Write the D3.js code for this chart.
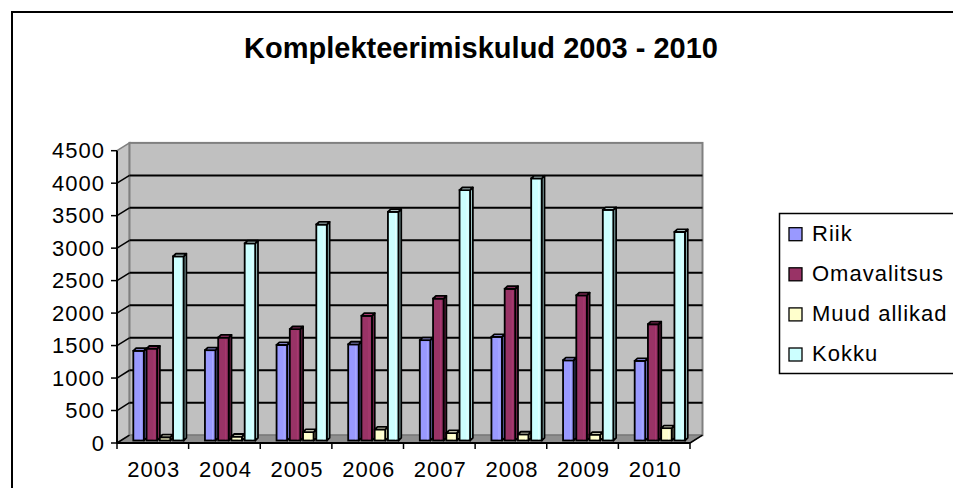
<!DOCTYPE html>
<html>
<head>
<meta charset="utf-8">
<script src="https://cdn.jsdelivr.net/npm/d3@7"></script>
<style>
  body { margin: 0; background: #fff; }
  svg { display: block; }
  text { font-family: Arial, "Liberation Sans", sans-serif; fill: #000; }
</style>
</head>
<body>
<div id="chart"></div>
<script>
// chart data
var years = ["2003", "2004", "2005", "2006", "2007", "2008", "2009", "2010"];
var seriesNames = ["Riik", "Omavalitsus", "Muud allikad", "Kokku"];
var riik = [1380, 1390, 1470, 1480, 1545, 1595, 1235, 1225];
var omavalitsus = [1415, 1585, 1715, 1920, 2185, 2335, 2235, 1790];
var muudAllikad = [50, 60, 130, 170, 115, 95, 90, 190];
var kokku = [2835, 3035, 3325, 3520, 3855, 4035, 3550, 3210];
var yTicks = [0, 500, 1000, 1500, 2000, 2500, 3000, 3500, 4000, 4500];
var colors = ["#9999ff", "#993366", "#ffffcc", "#ccffff"];

var seriesValues = [riik, omavalitsus, muudAllikad, kokku];

var width = 953, height = 488;

var svg = d3.select("#chart").append("svg")
  .attr("width", width)
  .attr("height", height);

// outer chart frame (runs off the right / bottom edge like the original)
svg.append("rect")
  .attr("x", 12).attr("y", 12)
  .attr("width", 960).attr("height", 500)
  .attr("fill", "#fff")
  .attr("stroke", "#000")
  .attr("stroke-width", 2);

// title
svg.append("text")
  .attr("x", 481).attr("y", 58)
  .attr("text-anchor", "middle")
  .style("font-size", "29px")
  .style("font-weight", "bold")
  .text("Komplekteerimiskulud 2003 - 2010");

// scales on the front plane
var y = d3.scaleLinear().domain([0, 4500]).range([443, 150.7]);
var x = d3.scaleBand().domain(years).range([117, 690]);
var xs = d3.scaleBand().domain(seriesNames).range([0, 53]);

// depth of the 3d box
var DX = 12.5, DY = -7.8;

// left side wall
svg.append("polygon")
  .attr("points", [[117, y(4500)], [117 + DX, y(4500) + DY], [117 + DX, y(0) + DY], [117, y(0)]].join(" "))
  .attr("fill", "#c4c4c4")
  .attr("stroke", "#808080")
  .attr("stroke-width", 1.5);

// back wall
svg.append("rect")
  .attr("x", 117 + DX).attr("y", y(4500) + DY)
  .attr("width", 690 - 117).attr("height", y(0) - y(4500))
  .attr("fill", "#c0c0c0")
  .attr("stroke", "#808080")
  .attr("stroke-width", 2);

// floor
svg.append("polygon")
  .attr("points", [[117, y(0)], [690, y(0)], [690 + DX, y(0) + DY], [117 + DX, y(0) + DY]].join(" "))
  .attr("fill", "#8f8f8f")
  .attr("stroke", "#777")
  .attr("stroke-width", 1);

// gridlines on back wall + side wall
var gridVals = yTicks.filter(function(d) { return d > 0 && d < 4500; });
svg.selectAll(".grid")
  .data(gridVals)
  .enter().append("line")
  .attr("x1", 117 + DX).attr("x2", 690 + DX)
  .attr("y1", function(d) { return y(d) + DY; })
  .attr("y2", function(d) { return y(d) + DY; })
  .attr("stroke", "#000")
  .attr("stroke-width", 2);

svg.selectAll(".sideGrid")
  .data(yTicks.filter(function(d) { return d < 4500; }))
  .enter().append("line")
  .attr("x1", 117).attr("x2", 117 + DX)
  .attr("y1", function(d) { return y(d); })
  .attr("y2", function(d) { return y(d) + DY; })
  .attr("stroke", "#000")
  .attr("stroke-width", 1.5);

// bars
var inner = (x.bandwidth() - 53) / 2;
var bx = 7, by = -2.5;     // bar position inside the depth
var bw = 10.5;             // bar front width
var ddx = 2.8, ddy = -2.6; // bar depth

var barData = [];
years.forEach(function(yr, i) {
  seriesNames.forEach(function(s, j) {
    barData.push({ year: yr, series: s, value: seriesValues[j][i], color: colors[j] });
  });
});

var bars = svg.selectAll(".bar")
  .data(barData)
  .enter().append("g")
  .attr("class", "bar");

bars.each(function(d) {
  var g = d3.select(this);
  var x0 = x(d.year) + inner + xs(d.series) + bx;
  var y0 = y(0) + by;
  var y1 = y(d.value) + by;
  var c = d3.color(d.color);

  // side face
  g.append("polygon")
    .attr("points", [[x0 + bw, y1], [x0 + bw + ddx, y1 + ddy], [x0 + bw + ddx, y0 + ddy], [x0 + bw, y0]].join(" "))
    .attr("fill", c.darker(0.6))
    .attr("stroke", "#000")
    .attr("stroke-width", 1.8)
    .attr("stroke-linejoin", "round");

  // front face
  g.append("rect")
    .attr("x", x0).attr("y", y1)
    .attr("width", bw).attr("height", y0 - y1)
    .attr("fill", d.color)
    .attr("stroke", "#000")
    .attr("stroke-width", 1.8);

  // small highlight stripe
  g.append("line")
    .attr("x1", x0 + bw * 0.72).attr("x2", x0 + bw * 0.72)
    .attr("y1", y1 + 2).attr("y2", y0 - 1)
    .attr("stroke", c.brighter(0.5))
    .attr("stroke-opacity", 0.6)
    .attr("stroke-width", 1);

  // top face
  g.append("polygon")
    .attr("points", [[x0, y1], [x0 + ddx, y1 + ddy], [x0 + bw + ddx, y1 + ddy], [x0 + bw, y1]].join(" "))
    .attr("fill", c.brighter(0.3))
    .attr("stroke", "#000")
    .attr("stroke-width", 1.8)
    .attr("stroke-linejoin", "round");
});

// y axis
svg.append("line")
  .attr("x1", 117).attr("x2", 117)
  .attr("y1", y(4500)).attr("y2", y(0))
  .attr("stroke", "#000").attr("stroke-width", 2);

svg.selectAll(".ytick")
  .data(yTicks)
  .enter().append("line")
  .attr("x1", 111).attr("x2", 117)
  .attr("y1", function(d) { return y(d); })
  .attr("y2", function(d) { return y(d); })
  .attr("stroke", "#000").attr("stroke-width", 1.5);

svg.selectAll(".ylabel")
  .data(yTicks)
  .enter().append("text")
  .attr("x", 105)
  .attr("y", function(d) { return y(d) + 7.5; })
  .attr("text-anchor", "end")
  .style("font-size", "22px")
  .style("letter-spacing", "1px")
  .text(function(d) { return d; });

// x axis
svg.append("line")
  .attr("x1", 117).attr("x2", 690)
  .attr("y1", y(0)).attr("y2", y(0))
  .attr("stroke", "#000").attr("stroke-width", 2);

svg.append("line")
  .attr("x1", 690).attr("x2", 690 + DX)
  .attr("y1", y(0)).attr("y2", y(0) + DY)
  .attr("stroke", "#000").attr("stroke-width", 1.5);

var xTickPos = years.map(function(d) { return x(d); }).concat([690]);
svg.selectAll(".xtick")
  .data(xTickPos)
  .enter().append("line")
  .attr("x1", function(d) { return d; })
  .attr("x2", function(d) { return d; })
  .attr("y1", y(0)).attr("y2", y(0) + 6)
  .attr("stroke", "#000").attr("stroke-width", 1.5);

svg.selectAll(".xlabel")
  .data(years)
  .enter().append("text")
  .attr("x", function(d) { return x(d) + x.bandwidth() / 2 + 1; })
  .attr("y", 477)
  .attr("text-anchor", "middle")
  .style("font-size", "22px")
  .style("letter-spacing", "1px")
  .text(function(d) { return d; });

// legend
var legend = svg.append("g");
legend.append("rect")
  .attr("x", 779.5).attr("y", 213.5)
  .attr("width", 200).attr("height", 160)
  .attr("fill", "#fff")
  .attr("stroke", "#000")
  .attr("stroke-width", 1.5);

var items = legend.selectAll(".item")
  .data(seriesNames)
  .enter().append("g")
  .attr("transform", function(d, i) { return "translate(0," + (240.7 + i * 40.1) + ")"; });

items.append("rect")
  .attr("x", 789).attr("y", -13)
  .attr("width", 13).attr("height", 13)
  .attr("fill", function(d, i) { return colors[i]; })
  .attr("stroke", "#000")
  .attr("stroke-width", 1.3);

items.append("text")
  .attr("x", 812).attr("y", 0)
  .style("font-size", "22px")
  .style("letter-spacing", "1px")
  .text(function(d) { return d; });
</script>
</body>
</html>
